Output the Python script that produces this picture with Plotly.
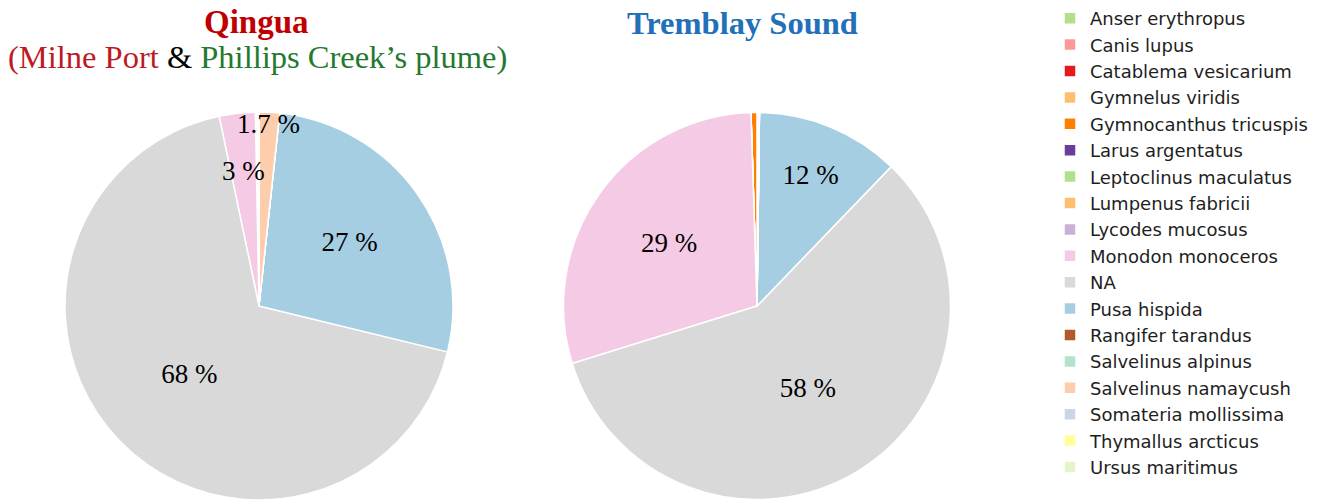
import math
import plotly.graph_objects as go

# ---------------- data ----------------
species = [
    "Anser erythropus", "Canis lupus", "Catablema vesicarium", "Gymnelus viridis",
    "Gymnocanthus tricuspis", "Larus argentatus", "Leptoclinus maculatus",
    "Lumpenus fabricii", "Lycodes mucosus", "Monodon monoceros", "NA",
    "Pusa hispida", "Rangifer tarandus", "Salvelinus alpinus",
    "Salvelinus namaycush", "Somateria mollissima", "Thymallus arcticus",
    "Ursus maritimus",
]
qingua_pct = [0, 0, 0, 0.1, 0.1, 0, 0, 0.1, 0, 3.0, 67.9, 27.1, 0, 0, 1.7, 0, 0, 0]
tremblay_pct = [0.2, 0, 0, 0, 0.5, 0, 0, 0, 0, 29.3, 58.0, 12.0, 0, 0, 0, 0, 0, 0]

# ---------------- style ----------------
colors = [
    "#B2DF8A", "#FB9A99", "#E31A1C", "#FDBF6F", "#FF7F00", "#6A3D9A", "#B2DF8A",
    "#FDBF6F", "#CAB2D6", "#F4CAE4", "#D9D9D9", "#A6CEE3", "#B15928", "#B3E2CD",
    "#FDCDAC", "#CBD5E8", "#FFFF99", "#E6F5C9",
]
W, H = 1329, 500
SERIF = "Liberation Serif, Times New Roman, serif"
LABEL_SIZE = 27
# radial position (fraction of radius) for labels of narrow slices drawn as annotations
small_label_radius = {"Monodon monoceros": 0.70, "Salvelinus namaycush": 0.94}


def fmt(v):
    return f"{v:.2g} %"


def pie(vals, name, cx, cy, r):
    # wide slices: library's own inside text; narrow labelled slices: annotations below
    text = [fmt(v) if v >= 5 else "" for v in vals]
    return go.Pie(
        labels=species, values=vals, name=name,
        text=text, textinfo="text", textposition="inside",
        insidetextorientation="horizontal",
        textfont=dict(family=SERIF, size=LABEL_SIZE, color="black"),
        sort=False, direction="counterclockwise", rotation=0,
        marker=dict(colors=colors, line=dict(color="white", width=1.5)),
        domain=dict(x=[(cx - r) / W, (cx + r) / W], y=[1 - (cy + r) / H, 1 - (cy - r) / H]),
        showlegend=True, hoverinfo="label+percent",
    )


def small_labels(fig, vals, cx, cy, r):
    total = sum(vals)
    cum = 0.0
    for lab, v in zip(species, vals):
        if 1 <= v < 5:
            a = 2 * math.pi * (cum + v / 2) / total  # counterclockwise from 12 o'clock
            rr = r * small_label_radius.get(lab, 0.7)
            px = cx - rr * math.sin(a)
            py = cy - rr * math.cos(a)
            fig.add_annotation(x=px / W, y=1 - py / H, xref="paper", yref="paper",
                               showarrow=False, text=fmt(v), xanchor="center", yanchor="middle",
                               font=dict(family=SERIF, size=LABEL_SIZE, color="black"))
        cum += v


fig = go.Figure()
fig.add_trace(pie(qingua_pct, "Qingua", 259, 306, 194))
fig.add_trace(pie(tremblay_pct, "Tremblay Sound", 757, 306, 193.5))
small_labels(fig, qingua_pct, 259, 306, 194)
small_labels(fig, tremblay_pct, 757, 306, 193.5)

fig.add_annotation(x=256 / W, y=1 - 22 / H, xref="paper", yref="paper", showarrow=False,
                   xanchor="center", yanchor="middle",
                   text="<b>Qingua</b>", font=dict(family=SERIF, size=33, color="#C00000"))
fig.add_annotation(x=257 / W, y=1 - 57 / H, xref="paper", yref="paper", showarrow=False,
                   xanchor="center", yanchor="middle",
                   text="<span style='color:#C0181F'>(Milne Port</span> &amp; "
                        "<span style='color:#23792E'>Phillips Creek’s plume)</span>",
                   font=dict(family=SERIF, size=32.5, color="black"))
fig.add_annotation(x=742 / W, y=1 - 23 / H, xref="paper", yref="paper", showarrow=False,
                   xanchor="center", yanchor="middle",
                   text="<b>Tremblay Sound</b>", font=dict(family=SERIF, size=32.5, color="#2270B8"))

fig.update_layout(
    width=W, height=H,
    margin=dict(l=0, r=0, t=0, b=0),
    paper_bgcolor="white", plot_bgcolor="white",
    legend=dict(x=1050 / W, y=1.0, xanchor="left", yanchor="top",
                font=dict(family="DejaVu Sans, Liberation Sans, Arial", size=18, color="#1E1E1E"),
                bgcolor="rgba(0,0,0,0)"),
)

fig.write_html("out.html", config={"displayModeBar": False},
               post_script="document.body.style.margin='0px';")
